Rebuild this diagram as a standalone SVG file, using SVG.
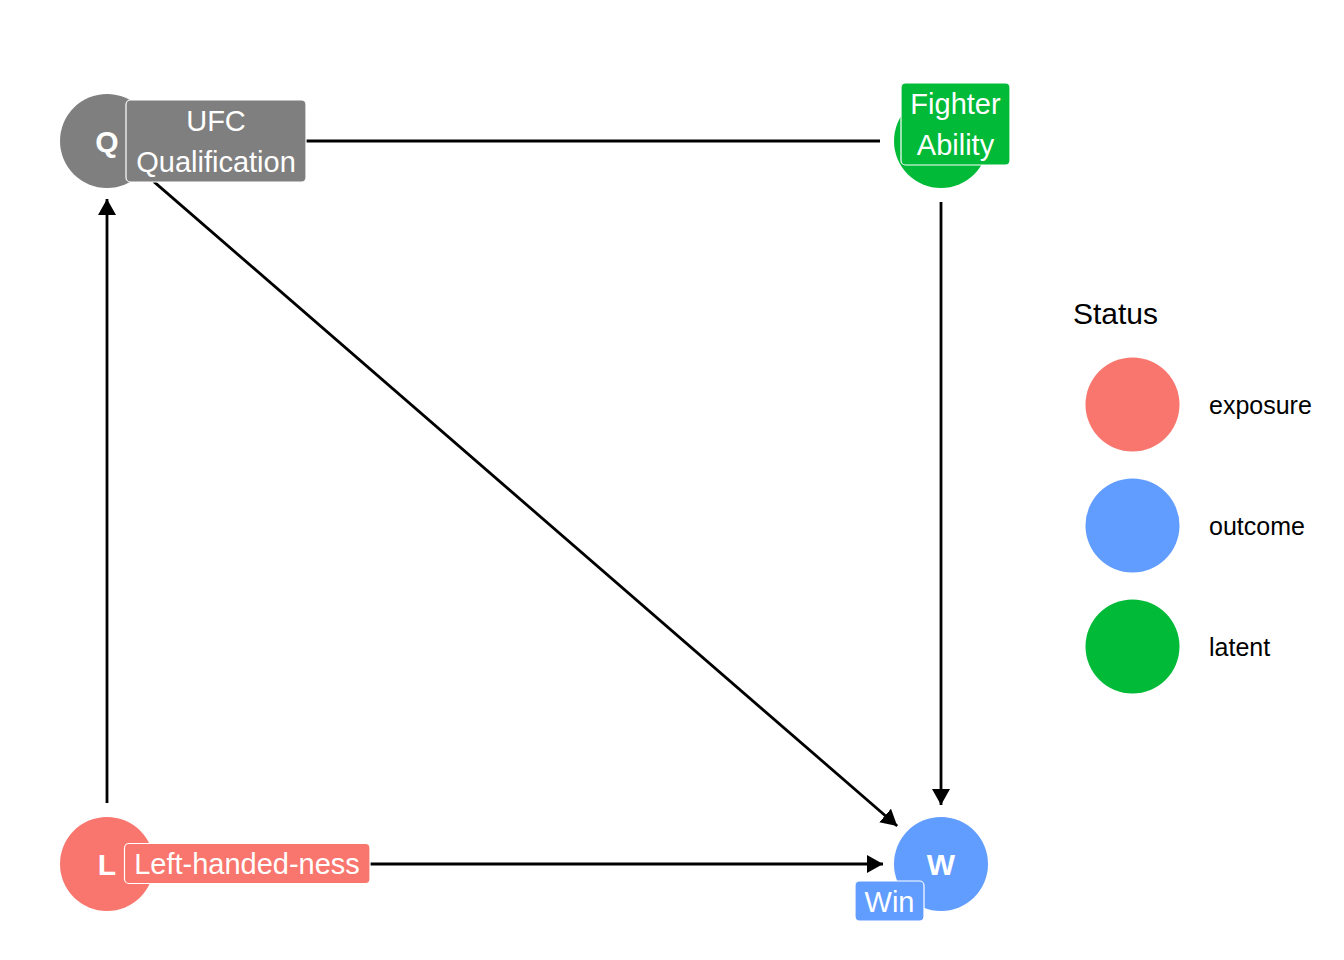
<svg xmlns="http://www.w3.org/2000/svg" width="1344" height="960" viewBox="0 0 1344 960">
  <defs>
    <marker id="arrow" markerUnits="userSpaceOnUse" markerWidth="18" markerHeight="20" refX="16" refY="9" orient="auto" viewBox="0 0 18 20">
      <path d="M0,0 L16,9 L0,18 Z" fill="#000"/>
    </marker>
    <style>
      .edge { stroke: #000; stroke-width: 2.8; fill: none; marker-end: url(#arrow); }
      .letter { font-family: "Liberation Sans", Arial, sans-serif; font-weight: bold; font-size: 30px; fill: #fff; text-anchor: middle; }
      .lbl { font-family: "Liberation Sans", Arial, sans-serif; font-size: 29px; fill: #fff; text-anchor: middle; }
      .box { stroke: #fff; stroke-width: 1.2; }
      .legend-title { font-family: "Liberation Sans", Arial, sans-serif; font-size: 30px; fill: #000; }
      .legend-text { font-family: "Liberation Sans", Arial, sans-serif; font-size: 25px; fill: #000; }
      .exposure { fill: #F8766D; }
      .outcome { fill: #619CFF; }
      .latent { fill: #00BA38; }
      .unset { fill: #7F7F7F; }
    </style>
  </defs>
  <rect width="1344" height="960" fill="#fff"/>

  <!-- edges -->
  <g id="edges">
    <line class="edge" x1="880" y1="141" x2="165" y2="141"/>
    <line class="edge" x1="107" y1="803" x2="107" y2="199"/>
    <line class="edge" x1="153.8" y1="181.6" x2="897.2" y2="826"/>
    <line class="edge" x1="941" y1="202" x2="941" y2="805"/>
    <line class="edge" x1="168" y1="864" x2="883" y2="864"/>
  </g>

  <!-- nodes -->
  <g id="node-Q">
    <circle class="unset" cx="107" cy="141" r="47"/>
    <text class="letter" x="107" y="152">Q</text>
    <rect class="box unset" x="126" y="100" width="180" height="82" rx="4.5"/>
    <text class="lbl" x="216" y="131">UFC</text>
    <text class="lbl" x="216" y="172">Qualification</text>
  </g>

  <g id="node-F">
    <circle class="latent" cx="941" cy="141" r="47"/>
    <rect class="box latent" x="901" y="83" width="109" height="82" rx="4.5"/>
    <text class="lbl" x="955.5" y="114">Fighter</text>
    <text class="lbl" x="955.5" y="155">Ability</text>
  </g>

  <g id="node-L">
    <circle class="exposure" cx="107" cy="864" r="47"/>
    <text class="letter" x="107" y="875">L</text>
    <rect class="box exposure" x="124.5" y="843.5" width="245.5" height="40" rx="4.5"/>
    <text class="lbl" x="247" y="874">Left-handed-ness</text>
  </g>

  <g id="node-W">
    <circle class="outcome" cx="941" cy="864" r="47"/>
    <text class="letter" x="941" y="875">W</text>
    <rect class="box outcome" x="855" y="881" width="69" height="40" rx="4.5"/>
    <text class="lbl" x="889.5" y="912">Win</text>
  </g>

  <!-- legend -->
  <g id="legend">
    <text class="legend-title" x="1073" y="324">Status</text>
    <circle class="exposure" cx="1132.5" cy="404.5" r="47"/>
    <text class="legend-text" x="1209" y="414">exposure</text>
    <circle class="outcome" cx="1132.5" cy="525.5" r="47"/>
    <text class="legend-text" x="1209" y="535">outcome</text>
    <circle class="latent" cx="1132.5" cy="646.5" r="47"/>
    <text class="legend-text" x="1209" y="656">latent</text>
  </g>
</svg>
